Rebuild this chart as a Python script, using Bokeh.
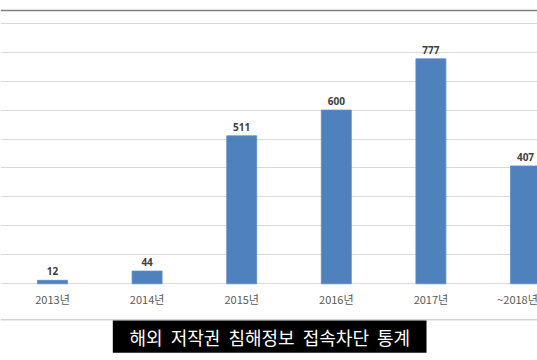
from bokeh.plotting import figure
from bokeh.models import Range1d, Span, Label, Grid, FixedTicker, BoxAnnotation
from bokeh.core.properties import value
from bokeh.embed import file_html
from bokeh.resources import INLINE

categories = ["2013년", "2014년", "2015년", "2016년", "2017년", "~2018년"]
counts = [12, 44, 511, 600, 777, 407]
grid_ticks = [0, 100, 200, 300, 400, 500, 600, 700, 800, 900]
title_text = "해외\u00a0\u00a0저작권\u00a0\u00a0침해정보\u00a0\u00a0접속차단\u00a0\u00a0통계"

W, H = 537, 360
base_px, top_px = 283.3, 22.7
ppu = (base_px - top_px) / max(grid_ticks)
cat_px = 94.6
first_px = 52.0

x0 = -first_px / cat_px
x1 = x0 + W / cat_px
y0 = -(H - base_px) / ppu
y1 = base_px / ppu


def px_x(px):
    return x0 + px / cat_px


def px_y(py):
    return y1 - py / ppu


idx = list(range(len(categories)))
label_shift = [0, 0, 0, 0, 0, -8]

p = figure(width=W, height=H, x_range=Range1d(x0, x1), y_range=Range1d(y0, y1),
           x_axis_location=None, y_axis_location=None, toolbar_location=None,
           output_backend="svg", min_border=0, outline_line_color=None)
p.center = []
p.add_layout(Grid(dimension=1, ticker=FixedTicker(ticks=grid_ticks),
                  grid_line_color="#d9d9d9", grid_line_width=1), "center")

p.vbar(x=idx, top=counts, bottom=0, width=30 / cat_px,
       fill_color="#4f81bd", line_color="#5b8dc8", line_width=0.8)

p.text(x=idx, y=counts, text=[str(c) for c in counts], text_align="center",
       text_baseline="bottom", y_offset=-5, text_font=value("Noto Sans"),
       text_font_style="bold", text_font_size="10px", text_color="#404040")

p.text(x=idx, y=[0] * len(idx), text=categories, text_align="center",
       text_baseline="top", y_offset=7, x_offset=label_shift,
       text_font=value("Noto Sans CJK KR"),
       text_font_size="11px", text_color="#595959")

p.add_layout(Span(location=px_y(10), dimension="width", line_color="#808080", line_width=1.5))
p.add_layout(Span(location=px_y(319.3), dimension="width", line_color="#c0c0c0", line_width=1))

p.add_layout(BoxAnnotation(left=px_x(112.3), right=px_x(426), top=px_y(320), bottom=px_y(352.3),
                           fill_color="black", fill_alpha=1, line_color=None))
p.add_layout(Label(x=px_x(269.3), y=px_y(336), text=title_text, text_align="center",
                   text_baseline="middle", text_color="white", text_font_size="18px",
                   text_font="Noto Sans CJK KR"))

open("out.html", "w").write(file_html(p, INLINE))
